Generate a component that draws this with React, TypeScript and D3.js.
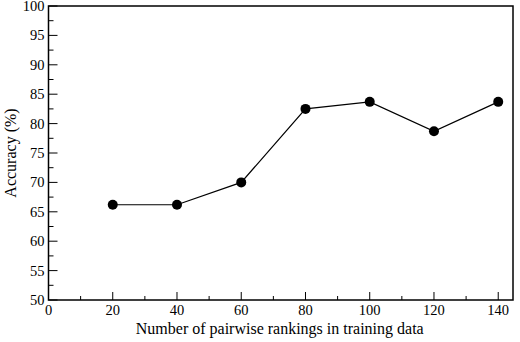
import React, { useEffect, useRef } from 'react';
import * as d3 from 'd3';

const pairs = [20, 40, 60, 80, 100, 120, 140];
const accuracy = [66.2, 66.2, 70, 82.5, 83.7, 78.7, 83.7];
const xTicks = [0, 20, 40, 60, 80, 100, 120, 140];
const yTicks = [50, 55, 60, 65, 70, 75, 80, 85, 90, 95, 100];

function App() {
  const svgRef = useRef<SVGSVGElement>(null);

  useEffect(() => {
    const W = 520, H = 342;
    const margin = { top: 6, right: 7, bottom: 42, left: 48.5 };
    const width = W - margin.left - margin.right;
    const height = H - margin.top - margin.bottom;
    const font = 'Liberation Serif';

    const root = d3.select(svgRef.current);
    root.selectAll('*').remove();
    root.attr('width', W).attr('height', H)
      .attr('font-family', font);

    const svg = root.append('g')
      .attr('transform', `translate(${margin.left},${margin.top})`);

    const x = d3.scaleLinear().domain([0, 144.6]).range([0, width]);
    const y = d3.scaleLinear().domain([50, 100]).range([height, 0]);

    // minor ticks
    const xMinor = d3.range(10, 145, 20);
    const yMinor = d3.range(52.5, 100, 5);

    svg.append('g').selectAll('line').data(xMinor).enter().append('line')
      .attr('x1', d => x(d)).attr('x2', d => x(d))
      .attr('y1', height).attr('y2', height - 4)
      .attr('stroke', '#000').attr('stroke-width', 1);
    svg.append('g').selectAll('line').data(xTicks).enter().append('line')
      .attr('x1', d => x(d)).attr('x2', d => x(d))
      .attr('y1', height).attr('y2', height - 8)
      .attr('stroke', '#000').attr('stroke-width', 1);

    svg.append('g').selectAll('line').data(yMinor).enter().append('line')
      .attr('x1', 0).attr('x2', 5)
      .attr('y1', d => y(d)).attr('y2', d => y(d))
      .attr('stroke', '#000').attr('stroke-width', 1);
    svg.append('g').selectAll('line').data(yTicks).enter().append('line')
      .attr('x1', 0).attr('x2', 9)
      .attr('y1', d => y(d)).attr('y2', d => y(d))
      .attr('stroke', '#000').attr('stroke-width', 1);

    // frame
    svg.append('rect')
      .attr('x', 0).attr('y', 0).attr('width', width).attr('height', height)
      .attr('fill', 'none').attr('stroke', '#000').attr('stroke-width', 1.5);

    // tick labels
    svg.append('g').selectAll('text').data(xTicks).enter().append('text')
      .attr('x', d => x(d)).attr('y', height + 15)
      .attr('text-anchor', 'middle')
      .attr('font-family', font).attr('font-size', 14.5)
      .text(d => d);

    svg.append('g').selectAll('text').data(yTicks).enter().append('text')
      .attr('x', -4).attr('y', d => y(d) + 5)
      .attr('text-anchor', 'end')
      .attr('font-family', font).attr('font-size', 14.5)
      .text(d => d);

    // axis titles
    svg.append('text')
      .attr('x', width / 2 - 1).attr('y', height + 34)
      .attr('text-anchor', 'middle')
      .attr('font-family', font).attr('font-size', 16)
      .text('Number of pairwise rankings in training data');

    svg.append('text')
      .attr('transform', 'rotate(-90)')
      .attr('x', -height / 2).attr('y', -33)
      .attr('text-anchor', 'middle')
      .attr('font-family', font).attr('font-size', 16)
      .text('Accuracy (%)');

    const data = pairs.map((p, i) => ({ p, a: accuracy[i] }));

    svg.append('path')
      .datum(data)
      .attr('fill', 'none').attr('stroke', '#000').attr('stroke-width', 1.2)
      .attr('d', d3.line<{ p: number; a: number }>().x(d => x(d.p)).y(d => y(d.a)));

    svg.selectAll('circle')
      .data(data)
      .enter()
      .append('circle')
      .attr('cx', d => x(d.p))
      .attr('cy', d => y(d.a))
      .attr('r', 5)
      .style('fill', '#000');
  }, []);

  return (
    <div style={{ position: 'absolute', left: 0, top: 0 }}>
      <svg ref={svgRef}></svg>
    </div>
  );
}

export default App;
